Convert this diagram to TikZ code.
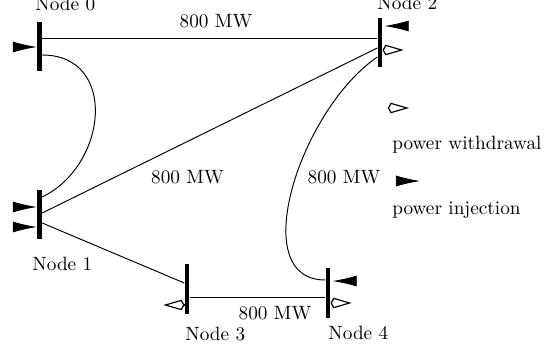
\documentclass[tikz,border=0pt]{standalone}
\usepackage{tikz}
\usetikzlibrary{positioning, arrows.meta, calc}

\begin{document}
\begin{tikzpicture}[
        x=0.52pt, y=-0.52pt,
        bus/.style={rectangle, fill=black, inner sep=0pt, minimum width=2.4pt, minimum height=25.5pt},
        tie/.style={line width=0.5pt},
        inj/.style={-{Latex[length=12.5pt, width=5.7pt]}},
        wdr/.style={-{Kite[open, length=11pt, width=5.5pt, inset=1.5pt]}, line width=0.6pt},
        tag/.style={inner sep=3.33pt}
    ]
    \useasboundingbox (0,0) rectangle (550,345);

    % Bus bars
    \node[bus] (n0) at (39.5,46.5) {};
    \node[bus] (n1) at (39.5,214.5) {};
    \node[bus] (n2) at (380,42.5) {};
    \node[bus] (n3) at (187,289) {};
    \node[bus] (n4) at (328,293) {};

    % Bus names
    \node[tag, above right=1.8pt and -5.7pt of n0.north] (name0) {Node 0};
    \node[tag, above right=0.8pt and -4.9pt of n2.north] (name2) {Node 2};
    \node[tag, below right=5.5pt and -7.2pt of n1.south] (name1) {Node 1};
    \node[tag, below right=3.1pt and -4.4pt of n3.south] (name3) {Node 3};
    \node[tag, below right=1pt and -3.3pt of n4.south] (name4) {Node 4};

    % Lines between buses
    \coordinate (p02) at ($(n0.east)+(0,-8.5)$);
    \coordinate (p34) at ($(n3.east)+(0,8)$);
    \draw[tie] (p02) -- (p02 -| n2.west);
    \draw[tie] ($(n0.east)+(0,8.5)$) .. controls (118,55) and (108,165) .. ($(n1.east)+(0,-17.5)$);
    \draw[tie] ($(n1.east)+(0,-1.5)$) -- ($(n2.west)+(0,5.5)$);
    \draw[tie] ($(n1.east)+(0,8.5)$) -- ($(n3.west)+(0,-6)$);
    \draw[tie] ($(n2.west)+(0,14.5)$) .. controls (300,110) and (245,280) .. ($(n4.west)+(0,-13)$);
    \draw[tie] (p34) -- (p34 -| n4.west);

    % Line ratings
    \node (cap02) at (216,21) {800 MW};
    \node (cap12) at (187.5,177) {800 MW};
    \node (cap24) at (344,177) {800 MW};
    \node (cap34) at (275,313) {800 MW};

    % Injections
    \draw[inj] ($(n0.west)+(-24,0.5)$) -- ($(n0.west)+(0,0.5)$);
    \draw[inj] ($(n1.west)+(-24,-7.5)$) -- ($(n1.west)+(0,-7.5)$);
    \draw[inj] ($(n1.west)+(-24,12.5)$) -- ($(n1.west)+(0,12.5)$);
    \draw[inj] ($(n2.east)+(24,-16.5)$) -- ($(n2.east)+(2,-16.5)$);
    \draw[inj] ($(n4.east)+(26,-12)$) -- ($(n4.east)+(2,-12)$);

    % Withdrawals
    \draw[wdr] ($(n2.east)+(0,7.5)$) -- ++(21,0);
    \draw[wdr] ($(n3.west)+(0,16)$) -- ++(-21,0);
    \draw[wdr] ($(n4.east)+(0,10)$) -- ++(21,0);

    % Legend
    \coordinate (keyw) at (388,108);
    \coordinate (keyi) at (396,181);
    \draw[wdr] (keyw) -- ++(21,0);
    \draw[inj] (keyi) -- ++(24,0);
    \node[tag, anchor=west] (keywtext) at (385.5,145) {power withdrawal};
    \node[tag, anchor=west] (keyitext) at (385.5,210) {power injection};

\end{tikzpicture}
\end{document}
